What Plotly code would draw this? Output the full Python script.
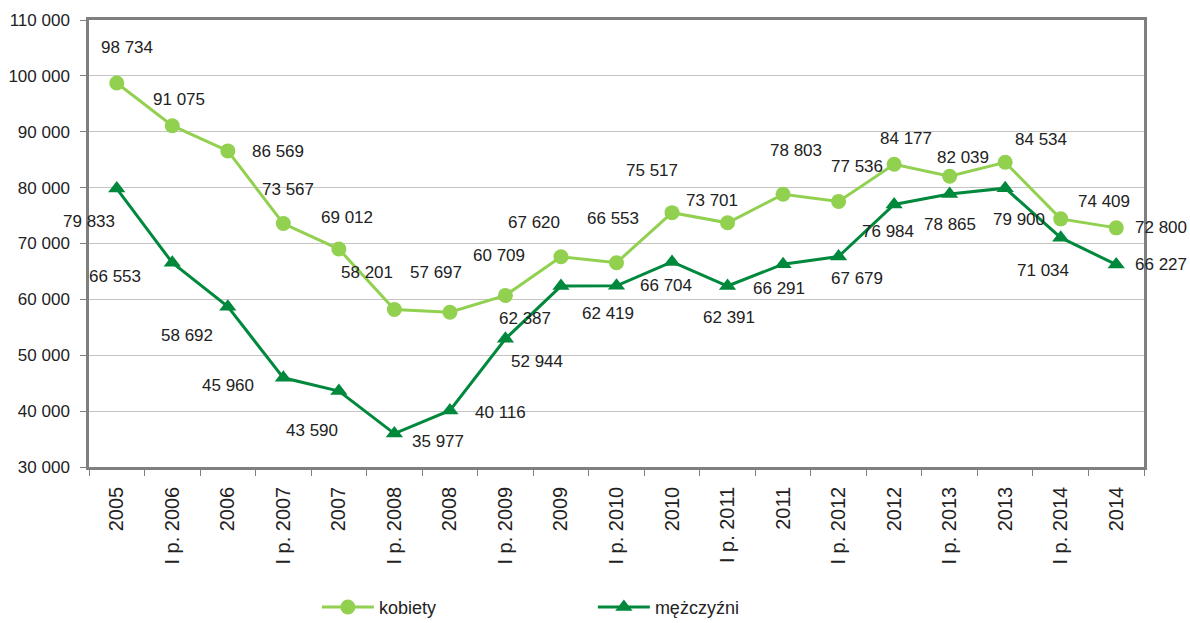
import plotly.graph_objects as go

categories = ["2005", "I p. 2006", "2006", "I p. 2007", "2007", "I p. 2008", "2008",
              "I p. 2009", "2009", "I p. 2010", "2010", "I p. 2011", "2011",
              "I p. 2012", "2012", "I p. 2013", "2013", "I p. 2014", "2014"]

kobiety = [98734, 91075, 86569, 73567, 69012, 58201, 57697, 60709, 67620, 66553,
           75517, 73701, 78803, 77536, 84177, 82039, 84534, 74409, 72800]

mezczyzni = [79833, 66553, 58692, 45960, 43590, 35977, 40116, 52944, 62387, 62419,
             66704, 62391, 66291, 67679, 76984, 78865, 79900, 71034, 66227]

y_ticks = [30000, 40000, 50000, 60000, 70000, 80000, 90000, 100000, 110000]

# label pixel offsets (style only)
k_off = [(10, -35), (7, -26), (50, 1), (5, -34), (8, -32), (-27, -37), (-14, -40),
         (-6, -40), (-27, -34), (-4, -44), (-20, -42), (-16, -22), (13, -44),
         (18, -35), (12, -26), (13, -19), (36, -23), (43, -17), (45, 0)]
m_off = [(-28, 33), (-57, 14), (-41, 29), (-55, 8), (-27, 39), (44, 8), (51, 2),
         (32, 23), (-36, 32), (-9, 28), (-6, 24), (1, 31), (-4, 24), (18, 22),
         (-6, 27), (0, 31), (14, 31), (-18, 33), (45, 0)]

C_K = "#92D050"
C_M = "#00893D"
FONT = "Liberation Sans, Arial, sans-serif"
TXT = "#222222"


def fmt(v):
    return f"{v:,}".replace(",", " ")


fig = go.Figure()
fig.add_trace(go.Scatter(x=categories, y=kobiety, name="kobiety", mode="lines+markers",
                         line=dict(color=C_K, width=3),
                         marker=dict(symbol="circle", size=15, color=C_K)))
fig.add_trace(go.Scatter(x=categories, y=mezczyzni, name="mężczyźni", mode="lines+markers",
                         line=dict(color=C_M, width=3),
                         marker=dict(symbol="triangle-up", size=15, color=C_M)))

annotations = []
for series, offs in ((kobiety, k_off), (mezczyzni, m_off)):
    for i, (v, (dx, dy)) in enumerate(zip(series, offs)):
        annotations.append(dict(x=i, y=v, xref="x", yref="y", text=fmt(v),
                                showarrow=False, xshift=dx, yshift=-dy,
                                font=dict(family=FONT, size=17, color=TXT)))

fig.update_layout(
    width=1190, height=623,
    margin=dict(l=89, r=46, t=20, b=156, autoexpand=False),
    paper_bgcolor="white", plot_bgcolor="white",
    font=dict(family=FONT, size=17, color=TXT),
    annotations=annotations,
    showlegend=True,
    legend=dict(orientation="h", x=0.216, xanchor="left",
                y=-0.314, yanchor="middle",
                entrywidth=209, entrywidthmode="pixels",
                font=dict(family=FONT, size=18, color=TXT),
                itemwidth=52),
    xaxis=dict(type="category", tickangle=-90, showline=True, linecolor="#7F7F7F",
               linewidth=2.5, mirror=True, ticks="outside", ticklen=6, tickcolor="#7F7F7F",
               tickson="boundaries", showgrid=False, range=[-0.5, 18.5],
               ticklabelstandoff=9, automargin=False,
               tickfont=dict(family=FONT, size=20, color=TXT)),
    yaxis=dict(range=[30000, 110000], tickvals=y_ticks,
               ticktext=[fmt(v) for v in y_ticks],
               showline=True, linecolor="#7F7F7F", linewidth=2.5, mirror=True,
               ticks="outside", ticklen=6, tickcolor="#7F7F7F",
               ticklabelstandoff=7, automargin=False,
               gridcolor="#C4C4C4", gridwidth=1, zeroline=False,
               tickfont=dict(family=FONT, size=17, color=TXT)),
)

fig.write_html("out.html", config={"displayModeBar": False},
               post_script="document.body.style.margin='0';document.body.style.overflow='hidden';")
